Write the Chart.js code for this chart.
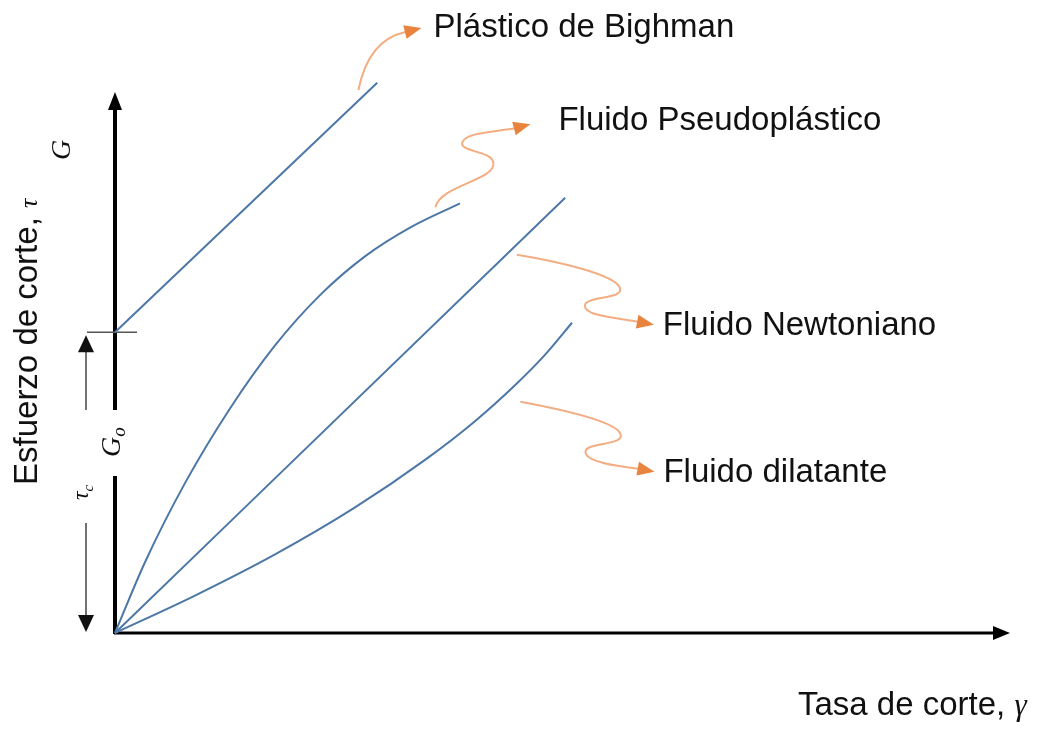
<!DOCTYPE html>
<html>
<head>
<meta charset="utf-8">
<script src="https://cdn.jsdelivr.net/npm/chart.js@4"></script>
<style>
  body { margin: 0; background: #fff; }
</style>
</head>
<body>
<canvas id="myChart" width="1055" height="729"></canvas>
<script>
// curve data (x = tasa de corte, y = esfuerzo de corte), units 0..100
let binghamX = [0, 29.3];
let binghamY = [54.4, 99.5];
let pseudoX = [0, 3.35, 7.82, 12.85, 17.88, 22.91, 27.93, 32.96, 38.55];
let pseudoY = [0, 12.8, 27.1, 40.6, 52.0, 61.1, 68.1, 73.3, 77.7];
let newtonX = [0, 50.3];
let newtonY = [0, 78.7];
let dilatX = [0, 8.94, 17.88, 26.82, 34.64, 40.22, 44.69, 48.04, 51.06];
let dilatY = [0, 6.76, 14.2, 22.7, 31.3, 38.3, 44.8, 50.3, 56.1];

let labels = ['Plástico de Bighman', 'Fluido Pseudoplástico', 'Fluido Newtoniano', 'Fluido dilatante'];
// where each orange arrow leaves its curve (data units)
let arrowStartX = [27.2, 35.8, 44.9, 45.3];
let arrowStartY = [98.2, 77.0, 68.4, 41.8];

let blue = '#4C77A6';
let sans = "'Liberation Sans', Arial, sans-serif";
let serif = "'Liberation Serif', 'Times New Roman', serif";

function pts(xs, ys) {
    return xs.map((x, i) => ({ x: x, y: ys[i] }));
}

// wavy arrow shapes, offsets in px from start point
let arrowPaths = [
    { segs: [['Q', 10, -50, 47, -58]], tip: [63, -62], label: [12, 9] },
    { segs: [['C', 5, -22, 60, -27, 58, -44], ['C', 57, -57, 23, -55, 27, -65], ['C', 30, -74, 55, -75, 80, -79]], tip: [95, -83], label: [28, 6] },
    { segs: [['C', 43, 7, 98, 20, 103, 33], ['C', 108, 45, 68, 41, 68, 51], ['C', 68, 61, 98, 63, 121, 67]], tip: [137, 70], label: [9, 10] },
    { segs: [['C', 43, 8, 95, 20, 100, 32], ['C', 105, 44, 65, 40, 65, 50], ['C', 65, 60, 95, 64, 118, 67]], tip: [134, 70], label: [9, 10] }
];

function arrowHead(ctx, fx, fy, tx, ty, len, half) {
    let a = Math.atan2(ty - fy, tx - fx);
    ctx.beginPath();
    ctx.moveTo(tx, ty);
    ctx.lineTo(tx - len * Math.cos(a) + half * Math.sin(a), ty - len * Math.sin(a) - half * Math.cos(a));
    ctx.lineTo(tx - len * Math.cos(a) - half * Math.sin(a), ty - len * Math.sin(a) + half * Math.cos(a));
    ctx.closePath();
    ctx.fill();
}

function vtext(ctx, parts, x, y) {
    // parts: [text, font, baselineShift]
    ctx.save();
    ctx.translate(x, y);
    ctx.rotate(-Math.PI / 2);
    let pos = 0;
    parts.forEach(p => {
        ctx.font = p[1];
        ctx.fillText(p[0], pos, p[2] || 0);
        pos += ctx.measureText(p[0]).width;
    });
    ctx.restore();
}

let decor = {
    id: 'decor',
    beforeDatasetsDraw(chart) {
        let ctx = chart.ctx;
        let xs = chart.scales.x, ys = chart.scales.y;
        let x0 = xs.getPixelForValue(0), y0 = ys.getPixelForValue(0);
        let yc = ys.getPixelForValue(binghamY[0]);
        let xEnd = chart.chartArea.right, yTop = 92;
        ctx.save();
        ctx.fillStyle = '#000';
        ctx.strokeStyle = '#000';
        // x axis
        ctx.lineWidth = 3;
        ctx.beginPath();
        ctx.moveTo(x0 - 1, y0);
        ctx.lineTo(xEnd - 14, y0);
        ctx.stroke();
        arrowHead(ctx, x0, y0, xEnd, y0, 17, 7);
        // y axis, broken around G_o
        ctx.lineWidth = 4;
        ctx.beginPath();
        ctx.moveTo(x0, y0 + 1);
        ctx.lineTo(x0, 476);
        ctx.moveTo(x0, 410);
        ctx.lineTo(x0, yTop + 14);
        ctx.stroke();
        arrowHead(ctx, x0, y0, x0, yTop, 18, 7);
        // yield stress tick
        ctx.strokeStyle = '#555';
        ctx.lineWidth = 1.5;
        ctx.beginPath();
        ctx.moveTo(x0 - 28, yc);
        ctx.lineTo(x0 + 22, yc);
        ctx.stroke();
        // tau_c double arrow
        let ax = x0 - 29;
        ctx.strokeStyle = '#444';
        ctx.fillStyle = '#111';
        ctx.beginPath();
        ctx.moveTo(ax, yc + 18);
        ctx.lineTo(ax, 410);
        ctx.moveTo(ax, 523);
        ctx.lineTo(ax, y0 - 16);
        ctx.stroke();
        arrowHead(ctx, ax, 400, ax, yc + 3, 17, 8);
        arrowHead(ctx, ax, 520, ax, y0 - 1, 17, 8);

        // texts
        ctx.fillStyle = '#111';
        ctx.textBaseline = 'alphabetic';
        vtext(ctx, [['Esfuerzo de corte, ', '33px ' + sans], ['τ', 'italic 26px ' + serif]], 37, 485);
        vtext(ctx, [['G', 'italic 28px ' + serif]], 70, 160);
        vtext(ctx, [['G', 'italic 28px ' + serif], ['o', 'italic 19px ' + serif, 5]], 120, 457);
        vtext(ctx, [['τ', 'italic 24px ' + serif], ['c', 'italic 15px ' + serif, 5]], 88, 500);

        // x axis title
        ctx.font = '33px ' + sans;
        ctx.fillText('Tasa de corte, ', 798, 715);
        let w = ctx.measureText('Tasa de corte, ').width;
        ctx.font = 'italic 31px ' + serif;
        ctx.fillText('γ', 798 + w, 715);
        ctx.restore();
    },
    afterDatasetsDraw(chart) {
        let ctx = chart.ctx;
        let xs = chart.scales.x, ys = chart.scales.y;
        ctx.save();
        arrowPaths.forEach((a, i) => {
            let sx = xs.getPixelForValue(arrowStartX[i]);
            let sy = ys.getPixelForValue(arrowStartY[i]);
            ctx.strokeStyle = '#F2AD82';
            ctx.lineWidth = 2;
            ctx.beginPath();
            ctx.moveTo(sx, sy);
            let lx = sx, ly = sy;
            a.segs.forEach(s => {
                if (s[0] === 'Q') {
                    ctx.quadraticCurveTo(sx + s[1], sy + s[2], sx + s[3], sy + s[4]);
                    lx = sx + s[3]; ly = sy + s[4];
                } else {
                    ctx.bezierCurveTo(sx + s[1], sy + s[2], sx + s[3], sy + s[4], sx + s[5], sy + s[6]);
                    lx = sx + s[5]; ly = sy + s[6];
                }
            });
            ctx.stroke();
            let tx = sx + a.tip[0], ty = sy + a.tip[1];
            ctx.fillStyle = '#E9843F';
            arrowHead(ctx, lx, ly, tx, ty, 17, 7);
            ctx.fillStyle = '#111';
            ctx.font = '33px ' + sans;
            ctx.textBaseline = 'alphabetic';
            ctx.fillText(labels[i], tx + a.label[0], ty + a.label[1]);
        });
        ctx.restore();
    }
};

let chart = new Chart(document.getElementById('myChart').getContext('2d'), {
    type: 'scatter',
    data: {
        datasets: [
            { label: labels[0], data: pts(binghamX, binghamY) },
            { label: labels[1], data: pts(pseudoX, pseudoY) },
            { label: labels[2], data: pts(newtonX, newtonY) },
            { label: labels[3], data: pts(dilatX, dilatY) }
        ].map(d => Object.assign(d, {
            showLine: true,
            borderColor: blue,
            borderWidth: 2,
            pointRadius: 0,
            cubicInterpolationMode: 'monotone',
            clip: false
        }))
    },
    options: {
        responsive: false,
        animation: false,
        layout: { padding: { left: 115, right: 45, top: 80, bottom: 96 } },
        scales: {
            x: { type: 'linear', min: 0, max: 100, display: false },
            y: { type: 'linear', min: 0, max: 100, display: false }
        },
        plugins: {
            legend: { display: false },
            tooltip: { enabled: false }
        }
    },
    plugins: [decor]
});
</script>
</body>
</html>
